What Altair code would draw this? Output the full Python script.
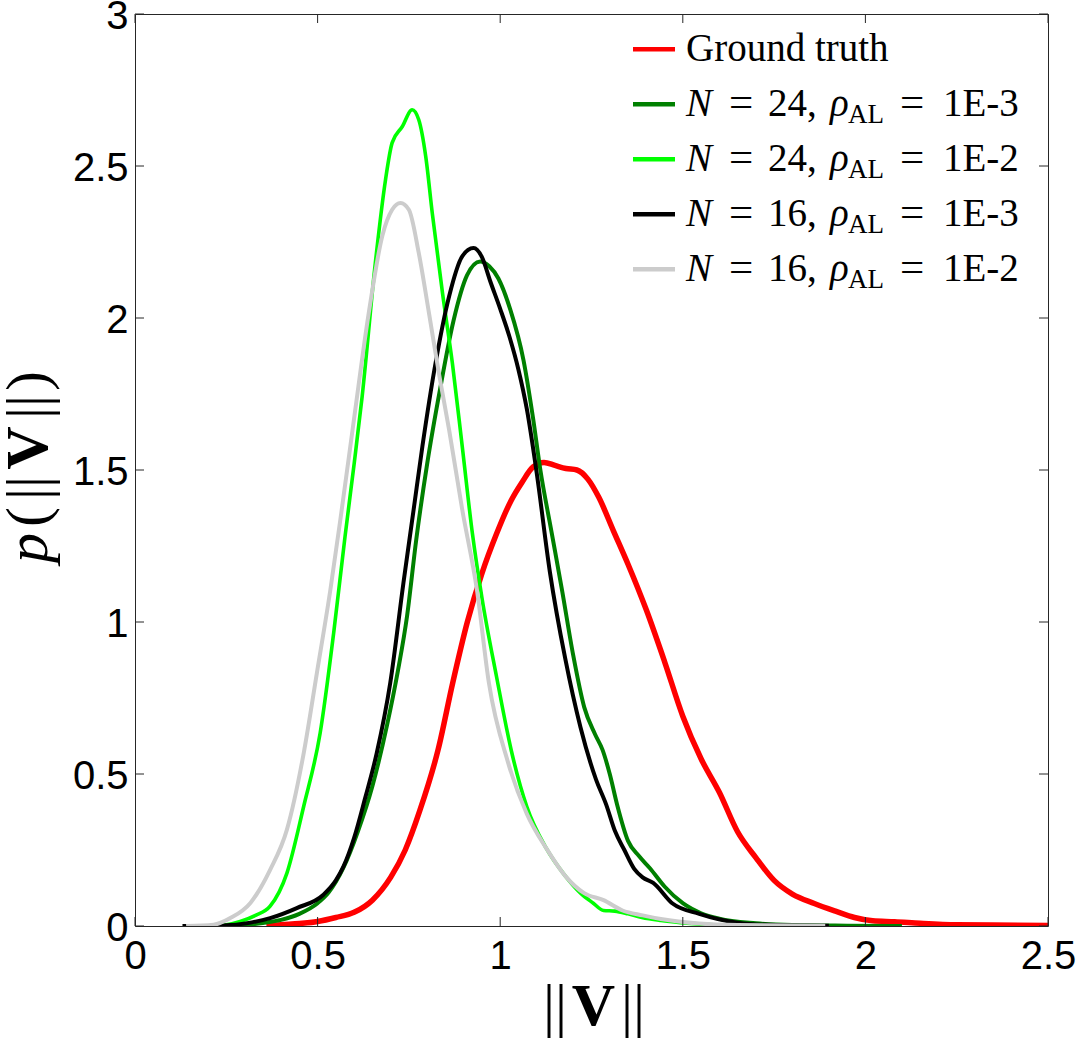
import altair as alt
import pandas as pd

# ---------------- data ----------------
red_x = [0.36, 0.40, 0.45, 0.50, 0.55, 0.60, 0.65, 0.70, 0.74, 0.78, 0.83, 0.87, 0.91, 0.95, 0.99,
         1.03, 1.06, 1.09, 1.12, 1.15, 1.18, 1.21, 1.24, 1.27, 1.31, 1.35, 1.40, 1.45, 1.50, 1.55,
         1.60, 1.65, 1.70, 1.75, 1.80, 1.86, 1.92, 1.97, 2.02, 2.08, 2.15, 2.25, 2.35, 2.50]
red_y = [0.0, 0.004, 0.008, 0.015, 0.028, 0.045, 0.085, 0.16, 0.25, 0.38, 0.58, 0.80, 1.0, 1.16, 1.29,
         1.40, 1.46, 1.51, 1.525, 1.515, 1.505, 1.50, 1.47, 1.41, 1.30, 1.19, 1.04, 0.87, 0.69, 0.55,
         0.44, 0.31, 0.225, 0.15, 0.105, 0.074, 0.048, 0.028, 0.017, 0.014, 0.009, 0.004, 0.003, 0.002]

dg_x = [0.24, 0.30, 0.35, 0.40, 0.45, 0.50, 0.53, 0.57, 0.61, 0.65, 0.69, 0.72, 0.745, 0.77, 0.80,
        0.836, 0.872, 0.909, 0.945, 0.97, 0.995, 1.027, 1.064, 1.09, 1.11, 1.14, 1.17, 1.20, 1.23, 1.26,
        1.28, 1.30, 1.32, 1.35, 1.38, 1.41, 1.45, 1.50, 1.55, 1.60, 1.70, 1.80, 1.95, 2.10]
dg_y = [0.0, 0.003, 0.01, 0.02, 0.04, 0.075, 0.11, 0.19, 0.31, 0.46, 0.66, 0.84, 1.02, 1.27, 1.52,
        1.77, 1.99, 2.14, 2.186, 2.17, 2.13, 2.03, 1.86, 1.67, 1.50, 1.30, 1.10, 0.89, 0.72, 0.63,
        0.58, 0.50, 0.40, 0.28, 0.23, 0.19, 0.13, 0.075, 0.042, 0.024, 0.009, 0.003, 0.001, 0.0]

gr_x = [0.20, 0.25, 0.288, 0.33, 0.37, 0.416, 0.462, 0.507, 0.544, 0.575, 0.60, 0.622, 0.658, 0.686, 0.704,
        0.732, 0.759, 0.777, 0.796, 0.814, 0.842, 0.869, 0.896, 0.924, 0.95, 0.99, 1.031, 1.073, 1.126, 1.178,
        1.22, 1.255, 1.283, 1.314, 1.35, 1.388, 1.44, 1.493, 1.597, 1.70]
gr_y = [0.0, 0.004, 0.015, 0.035, 0.065, 0.174, 0.394, 0.635, 0.964, 1.28, 1.52, 1.742, 2.18, 2.455, 2.576,
        2.63, 2.685, 2.652, 2.532, 2.345, 2.082, 1.852, 1.578, 1.29, 1.08, 0.82, 0.574, 0.392, 0.256, 0.165,
        0.108, 0.075, 0.051, 0.049, 0.04, 0.028, 0.018, 0.011, 0.003, 0.001]

bk_x = [0.13, 0.20, 0.26, 0.32, 0.37, 0.443, 0.516, 0.55, 0.571, 0.60, 0.63, 0.662, 0.699, 0.735, 0.763,
        0.787, 0.823, 0.86, 0.896, 0.927, 0.95, 0.973, 1.0, 1.025, 1.05, 1.073, 1.10, 1.136, 1.178, 1.22,
        1.262, 1.29, 1.314, 1.34, 1.367, 1.39, 1.419, 1.472, 1.545, 1.65, 1.755, 1.90]
bk_y = [0.0, 0.0, 0.003, 0.012, 0.026, 0.059, 0.103, 0.15, 0.196, 0.29, 0.42, 0.569, 0.80, 1.128, 1.37,
        1.578, 1.852, 2.071, 2.203, 2.23, 2.20, 2.12, 2.03, 1.94, 1.83, 1.70, 1.49, 1.165, 0.88, 0.653,
        0.483, 0.40, 0.313, 0.25, 0.188, 0.16, 0.142, 0.074, 0.04, 0.011, 0.003, 0.001]

gy_x = [0.14, 0.215, 0.261, 0.316, 0.37, 0.416, 0.462, 0.498, 0.535, 0.565, 0.60, 0.64, 0.677, 0.704, 0.727,
        0.75, 0.777, 0.805, 0.832, 0.86, 0.896, 0.937, 0.969, 1.021, 1.073, 1.126, 1.178, 1.23, 1.283, 1.335,
        1.39, 1.44, 1.545, 1.65, 1.89]
gy_y = [0.0, 0.004, 0.026, 0.076, 0.185, 0.317, 0.569, 0.832, 1.106, 1.36, 1.67, 2.016, 2.269, 2.356, 2.378,
        2.356, 2.214, 2.016, 1.819, 1.633, 1.37, 1.10, 0.80, 0.54, 0.369, 0.256, 0.165, 0.108, 0.085, 0.051,
        0.035, 0.023, 0.008, 0.003, 0.001]

x_ticks = [0, 0.5, 1, 1.5, 2, 2.5]
y_ticks = [0, 0.5, 1, 1.5, 2, 2.5, 3]

legend_first = "Ground truth"
legend_N = ["24", "24", "16", "16"]
legend_rho = ["1E-3", "1E-2", "1E-3", "1E-2"]

# ---------------- layout / style ----------------
W, H = 913, 912
SERIF = "Liberation Serif, DejaVu Serif, serif"
SANS = "Liberation Sans, Arial, sans-serif"
FRAME = "#262626"

xscale = alt.Scale(domain=[0, 2.5], nice=False, zero=False)
yscale = alt.Scale(domain=[0, 3], nice=False, zero=False)

xaxis = alt.Axis(values=x_ticks, format="~g", title=None, grid=False, ticks=False, tickSize=0,
                 domain=False, labelFont=SANS, labelFontSize=40, labelColor="black",
                 labelPadding=10, labelFlush=False, labelOverlap=False)
yaxis = alt.Axis(values=y_ticks, format="~g", title=None, grid=False, ticks=False, tickSize=0,
                 domain=False, labelFont=SANS, labelFontSize=40, labelColor="black",
                 labelPadding=7, labelFlush=False, labelOverlap=False, labelOffset=2)

series_specs = [
    (red_x, red_y, "#ff0000", 5.5),
    (dg_x, dg_y, "#008000", 4),
    (gr_x, gr_y, "#00ff00", 3.6),
    (bk_x, bk_y, "#000000", 4),
    (gy_x, gy_y, "#cccccc", 4),
]

layers = []
for xs, ys, color, w in series_specs:
    df = pd.DataFrame({"v": xs, "p": ys})
    layers.append(
        alt.Chart(df).mark_line(color=color, strokeWidth=w, interpolate="monotone", clip=True).encode(
            x=alt.X("v:Q", scale=xscale, axis=xaxis),
            y=alt.Y("p:Q", scale=yscale, axis=yaxis),
        )
    )

# inward tick marks on all four sides
xt = pd.DataFrame({"v": x_ticks})
yt = pd.DataFrame({"p": y_ticks})
TL = 9
for y0, y1 in [(H, H - TL), (0, TL)]:
    layers.append(alt.Chart(xt).mark_rule(color=FRAME, strokeWidth=1).encode(
        x=alt.X("v:Q", scale=xscale, axis=xaxis), y=alt.value(y0), y2=alt.value(y1)))
for x0, x1 in [(0, TL), (W - TL, W)]:
    layers.append(alt.Chart(yt).mark_rule(color=FRAME, strokeWidth=1).encode(
        y=alt.Y("p:Q", scale=yscale, axis=yaxis), x=alt.value(x0), x2=alt.value(x1)))


def txt(text, x, y, size, style="normal", weight="normal", angle=0, align="center",
        baseline="alphabetic", font=SERIF):
    return alt.Chart(alt.Data(values=[{}])).mark_text(
        text=text, fontSize=size, fontStyle=style, fontWeight=weight, angle=angle,
        align=align, baseline=baseline, font=font, color="black"
    ).encode(x=alt.value(x), y=alt.value(y))


# x-axis title  ||V||
TS = 60
BAR = "||"
layers += [
    txt(BAR, 420, 1011, TS),
    txt("V", 458.5, 1011, TS, weight="bold"),
    txt(BAR, 498, 1011, TS),
]
# y-axis title  p(||V||)
YX = -88
layers += [
    txt("p", YX, 534, TS, style="italic", angle=270),
    txt("(", YX, 503, TS, angle=270),
    txt(BAR, YX, 474, TS, angle=270),
    txt("V", YX, 434, TS, weight="bold", angle=270),
    txt(BAR, YX, 393, TS, angle=270),
    txt(")", YX, 367, TS, angle=270),
]

# legend
row_y = [35.3, 90.3, 145.3, 200.3, 255.3]
LX0, LX1 = 498, 540
LS = 39
colors = [s[2] for s in series_specs]
for i, ry in enumerate(row_y):
    layers.append(alt.Chart(alt.Data(values=[{}])).mark_rule(color=colors[i], strokeWidth=4.5).encode(
        x=alt.value(LX0), x2=alt.value(LX1), y=alt.value(ry)))
    by = ry + 12
    if i == 0:
        layers.append(txt(legend_first, 551, by, LS, align="left"))
    else:
        layers += [
            txt("N", 551, by, LS, style="italic", align="left"),
            txt("=", 594, by, LS + 4, align="left"),
            txt(legend_N[i - 1] + ",", 633, by, LS, align="left"),
            txt("\u03c1", 695, by, LS, style="italic", align="left"),
            txt("AL", 713, by + 7, 27, align="left"),
            txt("=", 765, by, LS + 4, align="left"),
            txt(legend_rho[i - 1], 808, by, LS, align="left"),
        ]

chart = alt.layer(*layers).properties(
    width=W, height=H,
    padding={"left": 135, "top": 14, "right": 30, "bottom": 116},
    autosize=alt.AutoSizeParams(type="none"),
    background="white",
).configure_view(stroke=FRAME, strokeWidth=1)

chart.save("out.html", embed_options={"renderer": "svg", "actions": False})
